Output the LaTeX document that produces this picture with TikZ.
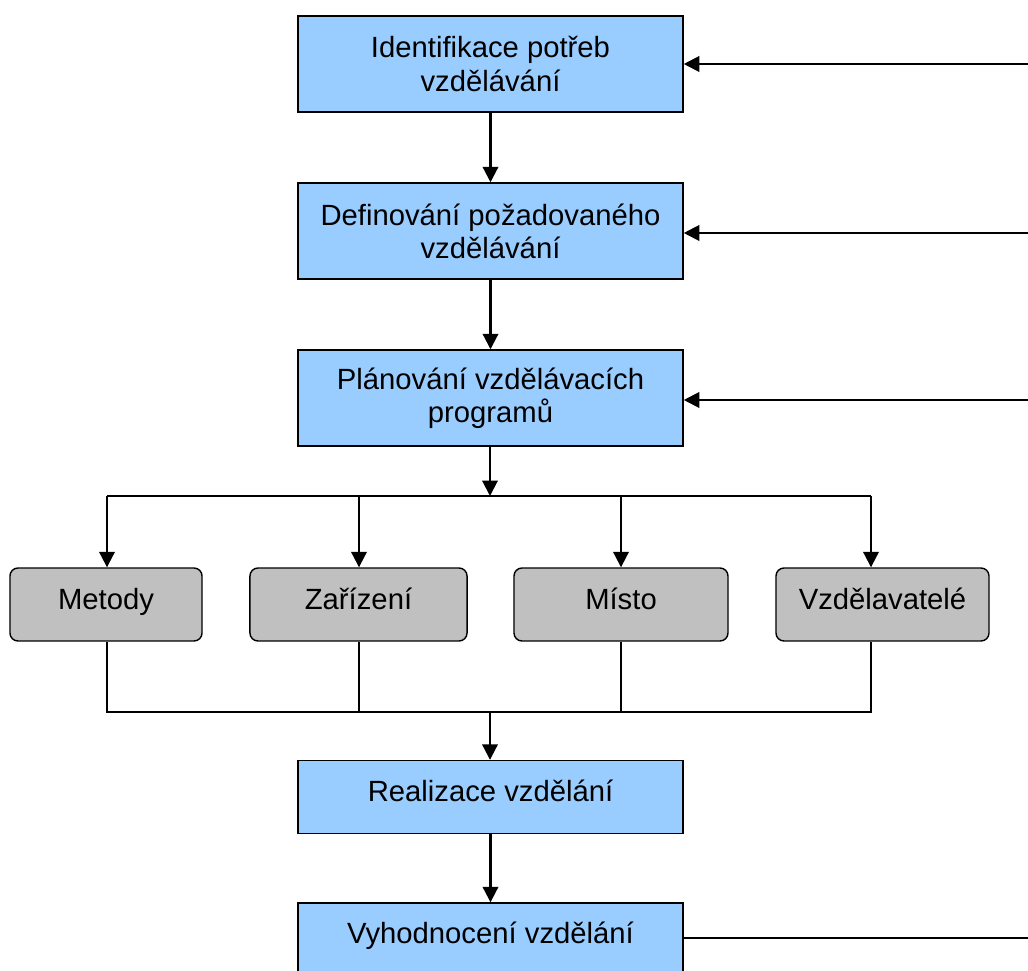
\documentclass[tikz,border=0pt]{standalone}
\usepackage{fontspec}
\setmainfont{Liberation Sans}
\usetikzlibrary{arrows.meta,calc}
\begin{document}
\begin{tikzpicture}[x=0.025cm,y=-0.025cm,
  bluebox/.style={draw=black,line width=1pt,fill=blueF,minimum width=273.9pt,minimum height=68.3pt,inner sep=0pt,align=center,font=\fontsize{20.8}{23.5}\selectfont},
  bluelow/.style={bluebox,minimum height=51.9pt,text height=12pt,text depth=6pt},
  graybox/.style={draw=black,line width=1pt,fill=grayF,rounded corners=5.7pt,minimum height=51.9pt,inner sep=0pt,text height=12pt,text depth=5pt,align=center,font=\fontsize{20.8}{23.5}\selectfont},
  arr/.style={line width=1.5pt,-{Triangle[length=11pt,width=11pt]}},
  thin/.style={line width=0.8pt},
  fb/.style={line width=1.5pt}]
\definecolor{blueF}{HTML}{99CCFF}
\definecolor{grayF}{HTML}{C0C0C0}
\useasboundingbox (0,0) rectangle (1028,971);
\node[bluebox] (b1) at (490.5,64) {Identifikace potřeb\\vzdělávání};
\node[bluebox] (b2) at (490.5,231) {Definování požadovaného\\vzdělávání};
\node[bluebox] (b3) at (490.5,398) {Plánování vzdělávacích\\programů};
\node[graybox,minimum width=136.6pt] (g1) at (106,604.5) {Metody};
\node[graybox,minimum width=154.4pt] (g2) at (358.5,604.5) {Zařízení};
\node[graybox,minimum width=152.2pt] (g3) at (621,604.5) {Místo};
\node[graybox,minimum width=151.5pt] (g4) at (882.5,604.5) {Vzdělavatelé};
\node[bluelow] (b4) at (490.5,797) {Realizace vzdělání};
\node[bluelow] (b5) at (490.5,939.5) {Vyhodnocení vzdělání};
% main flow
\draw[arr] (b1) -- (b2);
\draw[arr] (b2) -- (b3);
\coordinate (j0) at (490,496);
\coordinate (t1) at (107,496);
\coordinate (t2) at (359,496);
\coordinate (t3) at (621,496);
\coordinate (t4) at (871,496);
\draw[arr] (b3.south -| j0) -- (j0);
\draw[line width=1.5pt] (t1) -- (t4);
\draw[arr] (t1) -- (t1 |- g1.north);
\draw[arr] (t2) -- (t2 |- g2.north);
\draw[arr] (t3) -- (t3 |- g3.north);
\draw[arr] (t4) -- (t4 |- g4.north);
% collectors
\coordinate (c1) at (107,712);
\coordinate (c2) at (359,712);
\coordinate (c3) at (621,712);
\coordinate (c4) at (871,712);
\coordinate (c0) at (490,712);
\draw[thin] (c1 |- g1.south) -- (c1) -- (c4) -- (c4 |- g4.south);
\draw[thin] (c2 |- g2.south) -- (c2);
\draw[thin] (c3 |- g3.south) -- (c3);
\draw[arr] (c0) -- (c0 |- b4.north);
\draw[arr] (b4) -- (b5);
% feedback lines
\coordinate (r1) at (1028,64);
\coordinate (r2) at (1028,233);
\coordinate (r3) at (1028,400);
\coordinate (r5) at (1028,938);
\draw[arr] (r1) -- (r1 -| b1.east);
\draw[arr] (r2) -- (r2 -| b2.east);
\draw[arr] (r3) -- (r3 -| b3.east);
\draw[fb] (b5.east |- r5) -- (r5);
\end{tikzpicture}
\end{document}
